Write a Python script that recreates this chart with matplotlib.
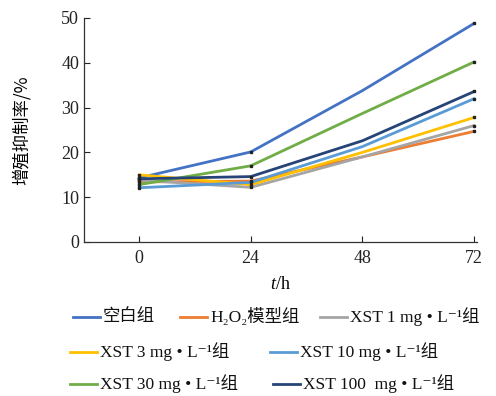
import matplotlib
matplotlib.use('Agg')
import matplotlib.pyplot as plt
from matplotlib.lines import Line2D

plt.rcParams['font.family'] = ['Liberation Serif', 'Noto Sans CJK SC', 'DejaVu Serif']
plt.rcParams['mathtext.fontset'] = 'custom'
plt.rcParams['mathtext.rm'] = 'Liberation Serif'
plt.rcParams['mathtext.it'] = 'Liberation Serif:italic'

# Data
hours = [0, 24, 48, 72]
blank = [14.3, 20.1, 33.8, 48.8]
h2o2 = [13.4, 13.6, 19.0, 24.7]
xst_1 = [13.8, 12.2, 19.0, 26.0]
xst_3 = [15.0, 12.8, 20.0, 27.8]
xst_10 = [12.1, 13.3, 21.3, 32.0]
xst_30 = [12.8, 17.0, 28.7, 40.2]
xst_100 = [14.1, 14.6, 22.6, 33.6]

labels = ['空白组', 'H₂O₂模型组', 'XST 1 mg • L⁻¹组',
          'XST 3 mg • L⁻¹组', 'XST 10 mg • L⁻¹组',
          'XST 30 mg • L⁻¹组', 'XST 100  mg • L⁻¹组']
colors = ['#4472C4', '#ED7D31', '#A5A5A5', '#FFC000', '#5B9BD5', '#70AD47', '#264478']
series = [blank, h2o2, xst_1, xst_3, xst_10, xst_30, xst_100]

fig = plt.figure(figsize=(4.96, 3.96), dpi=100)
ax = fig.add_axes([84 / 496, 154 / 396, 393 / 496, 224 / 396])

for vals, c in zip(series, colors):
    ax.plot(hours, vals, color=c, lw=2.0, solid_capstyle='round')
# the original only marks the 0, 24 and 72 h points
for vals in series:
    ax.plot(hours, vals, ls='none', marker='s', ms=1.6, color='#222222',
            markevery=[0, 1, 3])

ax.set_xlim(-11.8, 72.6)
ax.set_ylim(0, 50)
ax.set_xticks(hours)
ax.set_yticks([0, 10, 20, 30, 40, 50])
ax.tick_params(direction='in', length=4, width=0.8, labelsize=13, colors='#222222')
ax.tick_params(axis='x', pad=6)
for s in ['top', 'right']:
    ax.spines[s].set_visible(False)
for s in ['left', 'bottom']:
    ax.spines[s].set_linewidth(0.9)
    ax.spines[s].set_color('#333333')

ax.set_ylabel('增殖抑制率/%', fontsize=12.5, family=['Noto Sans CJK SC'], labelpad=22)
ax.set_xlabel('$\\it{t}$/h', fontsize=13, labelpad=6)

# legend laid out in three flowing rows
entries = [(73, 317, 0), (180, 317, 1), (320, 317, 2),
           (70, 352, 3), (270, 352, 4),
           (70, 384, 5), (273, 384, 6)]
for x, y, i in entries:
    fy = 1 - y / 396
    fig.add_artist(Line2D([x / 496, (x + 27) / 496], [fy, fy], color=colors[i], lw=2,
                          transform=fig.transFigure))
    fig.text((x + 30) / 496, fy, labels[i], fontsize=12.5, va='center', ha='left',
             color='#111111')

fig.savefig('out.png', dpi=100)
